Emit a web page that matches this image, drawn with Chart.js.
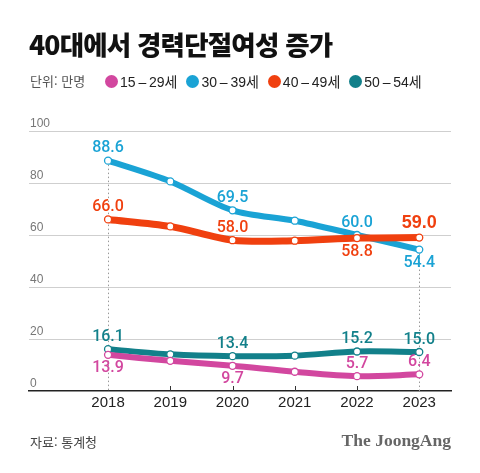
<!DOCTYPE html>
<html lang="ko">
<head>
<meta charset="utf-8">
<script src="https://cdn.jsdelivr.net/npm/chart.js@4"></script>
<style>
    html, body { margin: 0; padding: 0; background: #fff; }
    #wrap { position: relative; width: 480px; height: 473px; overflow: hidden; font-family: "Noto Sans CJK KR", "Liberation Sans", sans-serif; }
    #chart { position: absolute; left: 0; top: 0; }
    .title { position: absolute; left: 29px; top: 24px; font-size: 26.5px; font-weight: 900; color: #111; letter-spacing: -0.8px; }
    .unit { position: absolute; left: 30px; top: 71px; font-size: 13px; color: #555; }
    .legend { position: absolute; left: 105px; top: 71px; display: flex; font-size: 14px; color: #222; font-family: "Liberation Sans", "Noto Sans CJK KR", sans-serif; }
    .legend span { display: flex; align-items: center; margin-right: 9px; }
    .legend i { display: inline-block; width: 13px; height: 13px; border-radius: 50%; margin-right: 2px; }
    .source { position: absolute; left: 30px; top: 432px; font-size: 13px; color: #444; }
    .brand { position: absolute; right: 29px; top: 430px; font-size: 17.5px; font-weight: 700; color: #666; font-family: "Liberation Serif", "DejaVu Serif", serif; }
</style>
</head>
<body>
<div id="wrap">
    <canvas id="chart" width="480" height="473"></canvas>
    <div class="title">40대에서 경력단절여성 증가</div>
    <div class="unit">단위: 만명</div>
    <div class="legend" id="legend"></div>
    <div class="source">자료: 통계청</div>
    <div class="brand">The JoongAng</div>
</div>
<script>
// data
const years = [2018, 2019, 2020, 2021, 2022, 2023];
const seriesNames = ['15\u2009–\u200929세', '30\u2009–\u200939세', '40\u2009–\u200949세', '50\u2009–\u200954세'];
const age15to29 = [13.9, 11.6, 9.7, 7.4, 5.7, 6.4];
const age30to39 = [88.6, 80.6, 69.5, 65.5, 60.0, 54.4];
const age40to49 = [66.0, 63.3, 58.0, 57.8, 58.8, 59.0];
const age50to54 = [16.1, 14.1, 13.4, 13.6, 15.2, 15.0];
const yTicks = [0, 20, 40, 60, 80, 100];

// which points get a value label, and where (up / down)
const labels15to29 = ['down', null, 'down', null, 'up', 'up'];
const labels30to39 = ['up', null, 'up', null, 'up', 'down'];
const labels40to49 = ['up', null, 'up', null, 'down', 'big'];
const labels50to54 = ['up', null, 'up', null, 'up', 'up'];

const colors = ['#d2479f', '#1aa3d5', '#f0400f', '#12808a'];

// html legend
const legendEl = document.getElementById('legend');
seriesNames.forEach((name, i) => {
    const item = document.createElement('span');
    item.innerHTML = '<i style="background:' + colors[i] + '"></i>' + name;
    legendEl.appendChild(item);
});

function makeSet(name, values, color, labelPos, order, width) {
    return {
        label: name,
        data: values.map((v, i) => ({ x: years[i], y: v })),
        borderColor: color,
        borderWidth: width,
        borderCapStyle: 'round',
        borderJoinStyle: 'round',
        tension: 0.3,
        pointRadius: 3.5,
        pointBorderWidth: 1.3,
        pointBackgroundColor: '#fff',
        pointBorderColor: color,
        fill: false,
        order: order,
        labelPos: labelPos
    };
}

// dotted guides at first/last year and small ticks in between
const guidesPlugin = {
    id: 'guides',
    beforeDatasetsDraw(chart) {
        const ctx = chart.ctx;
        const x = chart.scales.x;
        const y = chart.scales.y;
        const base = y.getPixelForValue(0);
        ctx.save();
        ctx.lineWidth = 1;
        years.forEach((yr, i) => {
            const px = Math.round(x.getPixelForValue(yr)) + 0.5;
            ctx.beginPath();
            if (i === 0 || i === years.length - 1) {
                ctx.strokeStyle = '#999';
                ctx.setLineDash([1.5, 2.5]);
                ctx.moveTo(px, y.getPixelForValue(age30to39[i]));
            } else {
                ctx.strokeStyle = '#333';
                ctx.setLineDash([]);
                ctx.moveTo(px, base - 5);
            }
            ctx.lineTo(px, base);
            ctx.stroke();
        });
        ctx.restore();
    }
};

const valueLabels = {
    id: 'valueLabels',
    afterDatasetsDraw(chart) {
        const ctx = chart.ctx;
        ctx.save();
        ctx.textAlign = 'center';
        ctx.textBaseline = 'middle';
        chart.data.datasets.forEach((ds, di) => {
            const meta = chart.getDatasetMeta(di);
            meta.data.forEach((pt, i) => {
                const pos = ds.labelPos[i];
                if (!pos) return;
                let dy = pos === 'down' ? 13.5 : -12.5;
                ctx.font = '500 16px Roboto, "Liberation Sans", sans-serif';
                if (pos === 'big') {
                    dy = -15;
                    ctx.font = 'bold 18px "Liberation Sans", Roboto, sans-serif';
                }
                ctx.fillStyle = ds.borderColor;
                ctx.fillText(ds.data[i].y.toFixed(1), pt.x, pt.y + dy);
            });
        });
        ctx.restore();
    }
};

new Chart(document.getElementById('chart'), {
    type: 'line',
    data: {
        datasets: [
            makeSet(seriesNames[0], age15to29, colors[0], labels15to29, 1, 6),
            makeSet(seriesNames[1], age30to39, colors[1], labels30to39, 4, 6),
            makeSet(seriesNames[2], age40to49, colors[2], labels40to49, 3, 7),
            makeSet(seriesNames[3], age50to54, colors[3], labels50to54, 2, 6)
        ]
    },
    options: {
        responsive: false,
        animation: false,
        layout: { padding: { left: 29, right: 29, top: 131, bottom: 62 } },
        plugins: {
            legend: { display: false },
            tooltip: { enabled: false }
        },
        scales: {
            x: {
                type: 'linear',
                min: 2016.73,
                max: 2023.51,
                afterBuildTicks: s => { s.ticks = years.map(v => ({ value: v })); },
                afterFit: s => { s.height = 20; },
                grid: { display: false, drawTicks: false },
                border: { display: true, color: '#222', width: 1.5 },
                ticks: {
                    padding: 3,
                    color: '#222',
                    font: { family: '"Liberation Sans", Arial, sans-serif', size: 15 },
                    callback: v => String(v)
                }
            },
            y: {
                min: 0,
                max: 100,
                afterBuildTicks: s => { s.ticks = yTicks.map(v => ({ value: v })); },
                afterFit: s => { s.width = 0; },
                border: { display: false },
                grid: {
                    drawTicks: false,
                    color: c => c.tick && c.tick.value === 0 ? 'rgba(0,0,0,0)' : '#cfcfcf',
                    lineWidth: 1
                },
                ticks: {
                    mirror: true,
                    padding: 1,
                    labelOffset: -7,
                    color: '#777',
                    font: { family: '"Liberation Sans", Arial, sans-serif', size: 12 }
                }
            }
        }
    },
    plugins: [guidesPlugin, valueLabels]
});
</script>
</body>
</html>
